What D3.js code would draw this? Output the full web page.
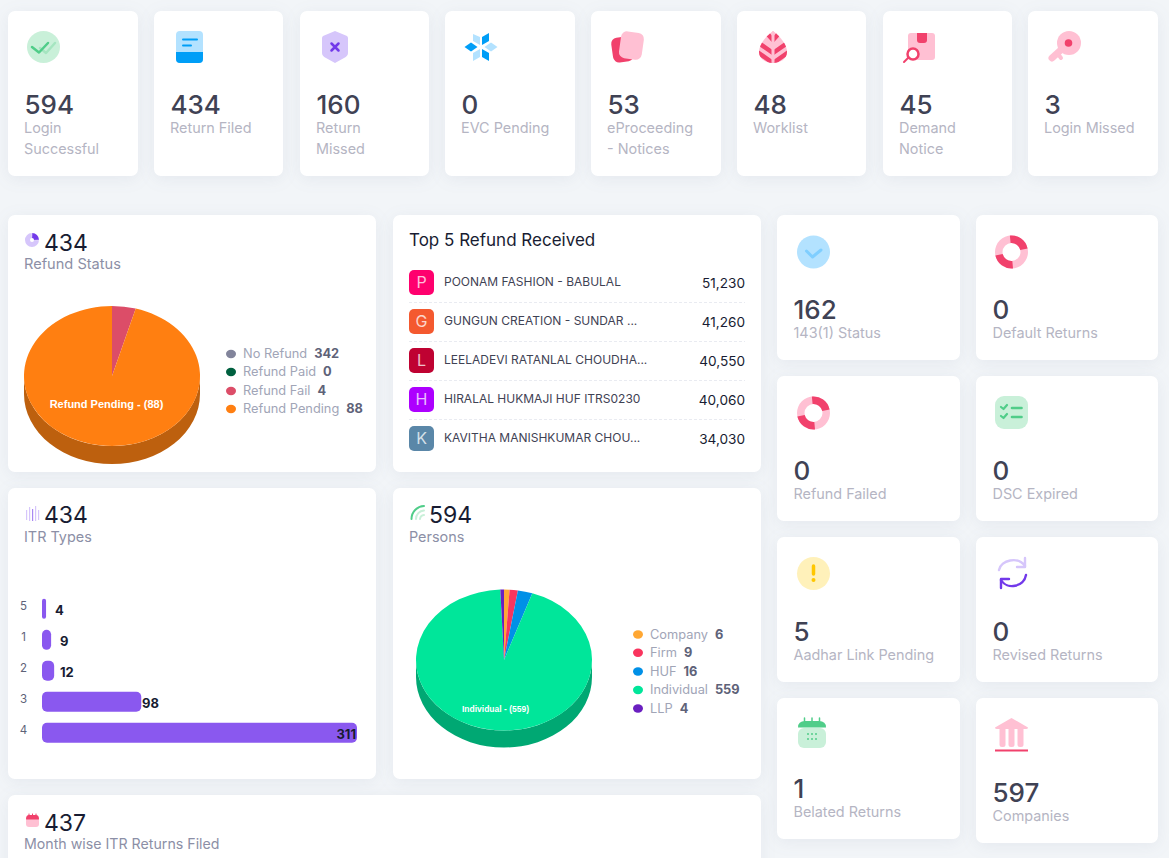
<!DOCTYPE html>
<html>
<head>
<meta charset="utf-8">
<script src="https://cdnjs.cloudflare.com/ajax/libs/d3/7.8.5/d3.min.js"></script>
<style>
html, body { margin: 0; padding: 0; background: #f2f5f8; overflow: hidden; }
svg { display: block; font-family: Inter, "Open Sans", sans-serif; }
.card { fill: #fff; filter: drop-shadow(0 3px 8px rgba(76, 87, 125, 0.08)); }
</style>
</head>
<body>
<div id="chart"></div>
<script>
// values
var topValues = [594, 434, 160, 0, 53, 48, 45, 3];
var topLabels = [["Login", "Successful"], ["Return Filed"], ["Return", "Missed"], ["EVC Pending"],
    ["eProceeding", "- Notices"], ["Worklist"], ["Demand", "Notice"], ["Login Missed"]];

var sideValues = [162, 0, 0, 0, 5, 0, 1, 597];
var sideLabels = ["143(1) Status", "Default Returns", "Refund Failed", "DSC Expired",
    "Aadhar Link Pending", "Revised Returns", "Belated Returns", "Companies"];

var refundCategories = ["No Refund", "Refund Paid", "Refund Fail", "Refund Pending"];
var refundValues = [342, 0, 4, 88];
var refundInPie = [false, true, true, true];
var refundColors = ["#82849b", "#00603f", "#dc4d68", "#ff7f11"];

var personCategories = ["Company", "Firm", "HUF", "Individual", "LLP"];
var personValues = [6, 9, 16, 559, 4];
var personColors = ["#ffa733", "#f9345e", "#0090e7", "#00e69a", "#6a1fc0"];

var itrCategories = ["5", "1", "2", "3", "4"];
var itrValues = [4, 9, 12, 98, 311];

var refundNames = ["POONAM FASHION - BABULAL", "GUNGUN CREATION - SUNDAR ...", "LEELADEVI RATANLAL CHOUDHA...",
    "HIRALAL HUKMAJI HUF ITRS0230", "KAVITHA MANISHKUMAR CHOU..."];
var refundAmounts = [51230, 41260, 40550, 40060, 34030];
var refundBadgeColors = ["#ff006e", "#f4592f", "#bf0232", "#ad00ff", "#5a87a8"];

var width = 1169;
var height = 858;
var PINK = "#f1416c", PINK_L = "#ffc0d3", GREEN = "#50cd89", GREEN_L = "#c9f0d9",
    BLUE = "#009ef7", BLUE_L = "#b3e2ff", PURPLE = "#7239ea", PURPLE_L = "#d6c6fb";

var svg = d3.select("#chart").append("svg")
    .attr("width", width)
    .attr("height", height);

function card(x0, y0, x1, y1) {
    svg.append("rect").attr("class", "card")
        .attr("x", x0).attr("y", y0)
        .attr("width", x1 - x0).attr("height", y1 - y0)
        .attr("rx", 7);
}

function label(x, y, str, size, color, weight, anchor) {
    return svg.append("text")
        .attr("x", x).attr("y", y)
        .attr("font-size", size)
        .attr("fill", color)
        .attr("font-weight", weight || 400)
        .attr("text-anchor", anchor || "start")
        .text(str);
}

// little helpers for the icons
function icon(x, y) {
    return svg.append("g").attr("transform", "translate(" + x + "," + y + ")");
}
function p(g, d, fill, stroke, sw) {
    return g.append("path").attr("d", d)
        .attr("fill", fill || "none")
        .attr("stroke", stroke || "none")
        .attr("stroke-width", sw || 0)
        .attr("stroke-linecap", "round")
        .attr("stroke-linejoin", "round");
}
function c(g, x, y, r, fill) {
    return g.append("circle").attr("cx", x).attr("cy", y).attr("r", r).attr("fill", fill);
}
function r(g, x, y, w, h, rx, fill) {
    return g.append("rect").attr("x", x).attr("y", y).attr("width", w).attr("height", h).attr("rx", rx).attr("fill", fill);
}

var icons = {
    doubleCheck: function(g) {
        g.append("ellipse").attr("cx", 16.5).attr("cy", 16).attr("rx", 16.5).attr("ry", 16).attr("fill", GREEN_L);
        p(g, "M13 17L19 22L28 12", null, "#a5e5c0", 2.5);
        p(g, "M5 16L12 21.5L21 12", null, GREEN, 2.5);
    },
    book: function(g) {
        r(g, 0, 0, 27, 32, 4, BLUE_L);
        p(g, "M0 21H27V28Q27 32 23 32H4Q0 32 0 28Z", BLUE);
        p(g, "M7 8.5H21", null, BLUE, 2);
        p(g, "M7 14.5H15", null, BLUE, 2);
    },
    shield: function(g) {
        p(g, "M13 0L25 5Q26 6 26 7V22Q26 25 22 27L13 32L4 27Q0 25 0 22V7Q0 6 1 5Z", PURPLE_L);
        p(g, "M9.5 12.5L16.5 19.5M16.5 12.5L9.5 19.5", null, PURPLE, 2.5);
    },
    flake: function(g) {
        p(g, "M-8 -13L-1 -10V-2L-8 -6Z", BLUE_L);
        p(g, "M8 -14L1 -10V-2L8 -6Z", BLUE);
        p(g, "M-8 14L-1 10V2L-8 6Z", BLUE_L);
        p(g, "M8 14L1 10V2L8 6Z", BLUE);
        p(g, "M-16.5 0L-10 -4.5L-3.5 0L-10 4.5Z", BLUE);
        p(g, "M16.5 0L10 -4.5L3.5 0L10 4.5Z", BLUE_L);
    },
    cards: function(g) {
        r(g, 1, 6, 21, 25, 6, PINK).attr("transform", "rotate(-8 11 18)");
        r(g, 9, 1, 23, 27, 6, PINK_L).attr("transform", "rotate(8 20 14)");
    },
    leaf: function(g) {
        var leaf = "M14 0C22 6 28 14 28 21C28 28 21 32 14 32C7 32 0 28 0 21C0 14 6 6 14 0Z";
        svg.append("clipPath").attr("id", "leafClip").append("path").attr("d", leaf);
        p(g, leaf, PINK_L);
        var inner = g.append("g").attr("clip-path", "url(#leafClip)");
        ["M-6 8L14 22L34 8", "M-6 18L14 32L34 18", "M4 -2L14 9L24 -2"].forEach(function(d) {
            p(inner, d, null, PINK, 4.5);
        });
        r(inner, 12.5, 0, 3, 32, 0, PINK_L);
    },
    boxSearch: function(g) {
        r(g, 5, 0, 27, 27, 3, PINK_L);
        p(g, "M14 0H24V7Q24 10 21 10H17Q14 10 14 7Z", PINK);
        p(g, "M5 25L1 29", null, PINK, 2);
        c(g, 10, 21, 5.5, "#fff").attr("stroke", PINK).attr("stroke-width", 2.5);
    },
    key: function(g) {
        c(g, 21, 12, 12, PINK_L);
        p(g, "M15 17L4 27", null, PINK_L, 7);
        p(g, "M10 23L13 27", null, PINK_L, 4);
        c(g, 20.5, 12, 3.8, PINK);
    },
    blueCheck: function(g) {
        c(g, 16.5, 16, 16.5, BLUE_L);
        p(g, "M9.5 15L15.5 21L24 14", null, "#7fceff", 3);
    },
    ring: function(g) {
        var arc = d3.arc().innerRadius(9).outerRadius(16.5);
        var gg = g.append("g").attr("transform", "translate(16.5,16)");
        p(gg, arc({ startAngle: 0, endAngle: 2 * Math.PI }), PINK_L);
        p(gg, arc({ startAngle: -0.1, endAngle: 1.35 }), PINK);
        p(gg, arc({ startAngle: 3.05, endAngle: 4.5 }), PINK);
    },
    checklist: function(g) {
        r(g, 0, 0, 33, 33, 9, GREEN_L);
        p(g, "M6 11L8.5 13L12 9", null, GREEN, 2.2);
        p(g, "M6 20L8.5 22L12 18", null, GREEN, 2.2);
        p(g, "M17 12H26.5", null, GREEN, 2.6);
        p(g, "M17 21H26.5", null, GREEN, 2.6);
    },
    alert: function(g) {
        c(g, 16.5, 16.5, 16.5, "#fff1ba");
        p(g, "M16.5 9V17", null, "#ffc700", 3.5);
        c(g, 16.5, 23, 2, "#ffc700");
    },
    refresh: function(g) {
        p(g, "M3 13C5 3 22 -1 29 9", null, PURPLE_L, 2.4);
        p(g, "M29 1V10H21", null, PURPLE_L, 2.4);
        p(g, "M30 18C28 30 11 33 5 23", null, PURPLE, 2.4);
        p(g, "M5 31V22H13", null, PURPLE, 2.4);
    },
    calendarGreen: function(g) {
        r(g, 0, 11, 28, 20, 6, GREEN_L);
        p(g, "M0 10.5Q0 4 7 4H21Q28 4 28 10.5Z", GREEN);
        p(g, "M6.5 1V5M14 1V5M21.5 1V5", null, GREEN, 1.5);
        [10, 14, 18].forEach(function(x) {
            c(g, x, 17, 1, GREEN);
            c(g, x, 22, 1, GREEN);
        });
    },
    bank: function(g) {
        p(g, "M16.5 0L33 9.5Q33 11 31 11H2Q0 11 0 9.5Z", PINK_L);
        [4.5, 13.5, 22.5].forEach(function(x) { r(g, x, 9, 6, 20, 2.5, PINK_L); });
        r(g, 0, 31.5, 33, 2, 0, PINK);
    }
};

// top row of cards
var topX = [[8, 138], [154, 283], [300, 429], [445, 575], [591, 721], [737, 866], [883, 1012], [1028, 1158]];
var topIcons = [["doubleCheck", 27, 31], ["book", 176, 31], ["shield", 322, 31], ["flake", 481, 47],
    ["cards", 611, 31], ["leaf", 759, 31], ["boxSearch", 903, 33], ["key", 1048, 31]];

topValues.forEach(function(v, i) {
    var x = topX[i][0];
    card(x, 11, topX[i][1], 176);
    icons[topIcons[i][0]](icon(topIcons[i][1], topIcons[i][2]));
    label(x + 16.5, 114, v, 26, "#3f4254", 500);
    topLabels[i].forEach(function(line, k) {
        label(x + 16, 133 + k * 21, line, 14.4, "#b5b5c3");
    });
});

// right column of cards
var sideBox = [[777, 215, 960, 360], [976, 215, 1158, 360], [777, 376, 960, 521], [976, 376, 1158, 521],
    [777, 537, 960, 682], [976, 537, 1158, 682], [777, 698, 960, 839], [976, 698, 1158, 843]];
var sideNumY = [319, 319, 480, 480, 641, 641, 798, 802];
var sideIcons = [["blueCheck", 797, 236], ["ring", 995, 236], ["ring", 797, 397], ["checklist", 995, 396],
    ["alert", 797, 557], ["refresh", 996, 557], ["calendarGreen", 798, 717], ["bank", 995, 718]];

sideValues.forEach(function(v, i) {
    var b = sideBox[i];
    card(b[0], b[1], b[2], b[3]);
    icons[sideIcons[i][0]](icon(sideIcons[i][1], sideIcons[i][2]));
    label(b[0] + 16.5, sideNumY[i], v, 26, "#3f4254", 500);
    label(b[0] + 16.5, sideNumY[i] + 19, sideLabels[i], 14.4, "#b5b5c3");
});

// middle panels
card(8, 215, 376, 472);
card(393, 215, 761, 472);
card(8, 488, 376, 779);
card(393, 488, 761, 779);
card(8, 795, 761, 900);

function panelHead(x, y, titleY, value, title, size) {
    label(x + 20, y, value, 23, "#181c32", 400);
    label(x, titleY, title, size, "#8c8fa6");
}
panelHead(24, 251, 269, 434, "Refund Status", 14.6);
panelHead(24, 523, 542, 434, "ITR Types", 14.4);
panelHead(409, 523, 542, 594, "Persons", 14.4);
panelHead(24, 831, 849, 437, "Month wise ITR Returns Filed", 14.2);

// header icons
var hPie = icon(32, 240);
var hArc = d3.arc().innerRadius(0).outerRadius(7).padAngle(0.08);
p(hPie, hArc({ startAngle: Math.PI / 2, endAngle: 2 * Math.PI }), PURPLE_L);
p(hPie, hArc({ startAngle: 0, endAngle: Math.PI / 2 }), PURPLE);
c(hPie, 0, 0, 2, "#fff");

var hBars = icon(25, 506);
[[1, 4, 10, PURPLE_L], [4, 1, 14, PURPLE_L], [7, 3, 12, "#a888f2"], [10, 0, 15, PURPLE_L], [13, 4, 10, PURPLE_L]].forEach(function(b) {
    r(hBars, b[0], b[1], 1.2, b[2], 0, b[3]);
});

var hWifi = icon(410, 520);
p(hWifi, "M1.5 -1A13 13 0 0 1 14 -14", null, GREEN, 2);
p(hWifi, "M6 -1A8.5 8.5 0 0 1 14 -9.5", null, GREEN_L, 2);
p(hWifi, "M10 -1A4.5 4.5 0 0 1 14 -5", null, GREEN_L, 2);

var hCal = icon(26, 813);
r(hCal, 0, 5, 13, 9, 3, PINK_L);
p(hCal, "M0 6Q0 2 3 2H10Q13 2 13 6V6.5H0Z", PINK);
p(hCal, "M3 1V3M6.5 1V3M10 1V3", null, PINK, 1);

// 3d pies: d3 arcs squashed into an ellipse, with a darker rim underneath
function pie3d(cx, cy, rx, ry, depth, cats, vals, cols, keep, rim, text, tx, ty, tsize) {
    var rows = cats.map(function(name, i) {
        return { name: name, value: vals[i], color: cols[i] };
    }).filter(function(d, i) { return keep[i]; });

    var slices = d3.pie().sort(null).value(function(d) { return d.value; })(rows);
    var arc = d3.arc().innerRadius(0).outerRadius(rx);

    svg.append("path")
        .attr("d", "M" + (cx - rx) + "," + cy +
            "A" + rx + "," + ry + " 0 0 0 " + (cx + rx) + "," + cy +
            "V" + (cy + depth) +
            "A" + rx + "," + ry + " 0 0 1 " + (cx - rx) + "," + (cy + depth) + "Z")
        .attr("fill", rim);

    svg.append("g")
        .attr("transform", "translate(" + cx + "," + cy + ") scale(1," + (ry / rx) + ")")
        .selectAll("path")
        .data(slices)
        .enter()
        .append("path")
        .attr("d", arc)
        .attr("fill", function(d) { return d.data.color; });

    svg.append("text")
        .attr("x", tx).attr("y", ty)
        .attr("text-anchor", "middle")
        .attr("font-family", "Liberation Sans, Arial, sans-serif")
        .attr("font-weight", 700)
        .attr("font-size", tsize)
        .attr("fill", "#fff")
        .text(text);
}

pie3d(112, 376, 88, 70, 18, refundCategories, refundValues, refundColors, refundInPie,
    "#bd600e", "Refund Pending - (88)", 106.5, 408, 11);
pie3d(504, 660, 88, 70.5, 17, personCategories, personValues, personColors, personCategories.map(function() { return true; }),
    "#00a873", "Individual - (559)", 495.5, 712, 8.5);

function legend(x, ys, cats, vals, cols) {
    cats.forEach(function(name, i) {
        svg.append("ellipse")
            .attr("cx", x).attr("cy", ys[i])
            .attr("rx", 5).attr("ry", 4.2)
            .attr("fill", cols[i]);
        var t = svg.append("text")
            .attr("x", x + 12)
            .attr("y", ys[i] + 4.2)
            .attr("font-size", 12.8);
        t.append("tspan").attr("fill", "#a1a5b7").text(name);
        t.append("tspan").attr("dx", 7).attr("fill", "#5e6278").attr("font-weight", 700).text(vals[i]);
    });
}
legend(231, [354, 372, 391, 409], refundCategories, refundValues, refundColors);
legend(638, [634.5, 652.7, 671.5, 690, 708.5], personCategories, personValues, personColors);

// top refunds table
label(409, 246, "Top 5 Refund Received", 17, "#181c32", 400);

var rowY = d3.scaleBand()
    .domain(refundNames)
    .range([270, 465]);

refundNames.forEach(function(name, i) {
    var y = rowY(name);
    r(svg, 409, y, 25, 25, 5, refundBadgeColors[i]);
    label(421.5, y + 18, name.charAt(0), 16, "#fff", 400, "middle").attr("fill-opacity", 0.75);
    label(444, y + 16, name, 12, "#3f4254", 400);
    label(745, y + 18, d3.format(",")(refundAmounts[i]), 13.6, "#181c32", 400, "end");
    if (i < refundNames.length - 1) {
        svg.append("line")
            .attr("x1", 409).attr("x2", 745)
            .attr("y1", y + 32.5).attr("y2", y + 32.5)
            .attr("stroke", "#e9ebf1")
            .attr("stroke-dasharray", "3,2");
    }
});

// ITR types bars
var xScale = d3.scaleLinear()
    .domain([0, 311])
    .range([42, 357]);

var yScale = d3.scaleBand()
    .domain(itrCategories)
    .range([593.3, 748.3])
    .paddingInner(0.355)
    .paddingOuter(0.1775);

var yAxis = svg.append("g")
    .attr("transform", "translate(42,-2)")
    .call(d3.axisLeft(yScale).tickSize(0));
yAxis.select(".domain").remove();
yAxis.selectAll("text")
    .attr("x", -18.5)
    .attr("text-anchor", "middle")
    .attr("font-family", "Inter, sans-serif")
    .attr("font-size", 11.5)
    .attr("fill", "#5e6278");

svg.selectAll(".bar")
    .data(itrValues)
    .enter()
    .append("rect")
    .attr("class", "bar")
    .attr("x", xScale(0))
    .attr("y", function(d, i) { return yScale(itrCategories[i]); })
    .attr("width", function(d) { return xScale(d) - xScale(0); })
    .attr("height", yScale.bandwidth())
    .attr("rx", function(d) { return Math.min(5, (xScale(d) - xScale(0)) / 2); })
    .attr("fill", "#8a58ef");

// the 311 label sits inside the bar, the short ones stand off a bit
var itrLabelX = [55, 60, 60, 142, 356];
var itrLabelAnchor = ["start", "start", "start", "start", "end"];
svg.selectAll(".barLabel")
    .data(itrValues)
    .enter()
    .append("text")
    .attr("class", "barLabel")
    .attr("x", function(d, i) { return itrLabelX[i]; })
    .attr("y", function(d, i) { return yScale(itrCategories[i]) + 16; })
    .attr("text-anchor", function(d, i) { return itrLabelAnchor[i]; })
    .attr("font-size", 13)
    .attr("font-weight", 700)
    .attr("fill", "#181c32")
    .text(function(d) { return d; });
</script>
</body>
</html>
